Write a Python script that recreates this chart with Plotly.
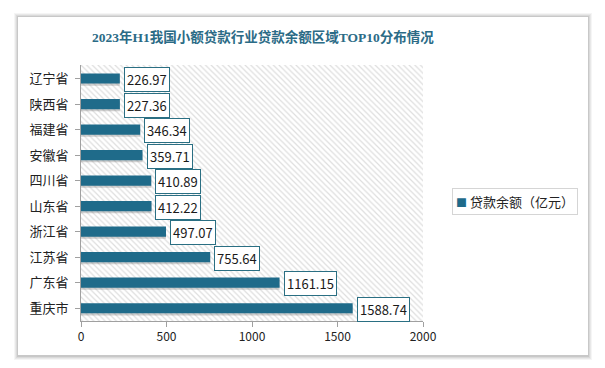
import plotly.graph_objects as go

categories = ["辽宁省", "陕西省", "福建省", "安徽省", "四川省", "山东省", "浙江省", "江苏省", "广东省", "重庆市"]
values = [226.97, 227.36, 346.34, 359.71, 410.89, 412.22, 497.07, 755.64, 1161.15, 1588.74]
series_name = "贷款余额（亿元）"
title_text = "2023年H1我国小额贷款行业贷款余额区域TOP10分布情况"
x_ticks = [0, 500, 1000, 1500, 2000]

OFF = 8  # page body margin
W, H = 605 - OFF, 368 - OFF
# plot area in screen pixels: x 81..423, y 65..321
L, T = 81 - OFF, 65 - OFF
R, B = W - (423 - OFF), H - (321 - OFF)
pw, ph = W - L - R, H - T - B

def px(x):  # screen x -> paper
    return (x - OFF - L) / pw

def py(y):  # screen y -> paper
    return (H - B - (y - OFF)) / ph

BAR = "#1f6b8a"
CJK = "Noto Sans CJK SC, Microsoft YaHei, sans-serif"
BW = 0.4

fig = go.Figure()

# hatched plot background (decorative)
fig.add_trace(go.Scatter(
    x=[0, 1, 1, 0, 0], y=[0, 0, 1, 1, 0], mode="lines", fill="toself",
    line=dict(width=0, color="rgba(0,0,0,0)"),
    fillcolor="white",
    fillpattern=dict(shape="\\", fgcolor="#bdbdbd", bgcolor="white", size=4, solidity=0.3),
    hoverinfo="skip", showlegend=False, xaxis="x", yaxis="y"))

# soft shadow under bars (decorative)
fig.add_trace(go.Bar(
    x=values, y=categories, orientation="h", width=BW, offset=-BW / 2 + 0.08,
    marker=dict(color="rgba(120,120,120,0.35)", line=dict(width=0)),
    xaxis="x2", yaxis="y2", showlegend=False, hoverinfo="skip"))

fig.add_trace(go.Bar(
    x=values, y=categories, orientation="h", name=series_name,
    width=BW, offset=-BW / 2,
    marker=dict(color=BAR, line=dict(width=0)),
    xaxis="x2", yaxis="y2", showlegend=False))

for c, v in zip(categories, values):
    fig.add_annotation(
        x=v, y=c, xref="x2", yref="y2", text=f"{v:.2f}", showarrow=False,
        xanchor="left", xshift=4, yshift=-1,
        bgcolor="white", bordercolor="#2a6f83", borderwidth=1, borderpad=2,
        font=dict(family=CJK, size=13, color="#1a1a1a"))

# legend box drawn as annotation
fig.add_annotation(
    x=px(452), y=py(201.5), xref="paper", yref="paper", xanchor="left", yanchor="middle",
    showarrow=False,
    text=f"<span style='color:{BAR};font-size:11px'>■</span> {series_name}",
    bgcolor="white", bordercolor="#d5d5d5", borderwidth=1, borderpad=3,
    font=dict(family=CJK, size=13, color="#222222"))

# card shadow and card
shapes = []
for i, op in enumerate([0.04, 0.05, 0.06, 0.08]):
    d = 4 - i
    shapes.append(dict(type="rect", xref="paper", yref="paper", layer="below",
                       x0=px(18 - d), x1=px(588 + d), y0=py(355 + d + 1), y1=py(17 - d),
                       line=dict(width=0), fillcolor=f"rgba(0,0,0,{op})"))
shapes.append(dict(type="rect", xref="paper", yref="paper", layer="below",
                   x0=px(18), x1=px(588), y0=py(355), y1=py(17),
                   line=dict(width=0), fillcolor="white"))

fig.update_layout(
    width=W, height=H,
    margin=dict(l=L, r=R, t=T, b=B, autoexpand=False),
    paper_bgcolor="white", plot_bgcolor="rgba(0,0,0,0)",
    shapes=shapes,
    showlegend=False,
    barmode="overlay",
    title=dict(text=f"<b>{title_text}</b>", xref="container", yref="container",
               x=(263 - OFF) / W, xanchor="center",
               y=1 - (37 - OFF) / H, yanchor="middle",
               font=dict(family="Liberation Serif, Noto Sans CJK SC, serif", size=13.5, color="#2b6b86")),
    xaxis=dict(domain=[0, 1], range=[0, 1], visible=False, fixedrange=True),
    yaxis=dict(domain=[0, 1], range=[0, 0.992], visible=False, fixedrange=True),
    xaxis2=dict(overlaying="x", anchor="y2", range=[0, 2000], tickvals=x_ticks,
                showgrid=False, zeroline=False, showline=True, linecolor="#a0a0a0",
                ticks="outside", ticklen=5, tickcolor="#a0a0a0",
                tickfont=dict(family=CJK, size=12, color="#222222")),
    yaxis2=dict(overlaying="y", anchor="x2", autorange="reversed", type="category",
                showgrid=False, zeroline=False, showline=True, linecolor="#a0a0a0",
                ticks="outside", ticklen=5, tickcolor="#a0a0a0", ticklabelstandoff=4,
                tickfont=dict(family=CJK, size=13, color="#222222")),
)

fig.write_html("out.html")
